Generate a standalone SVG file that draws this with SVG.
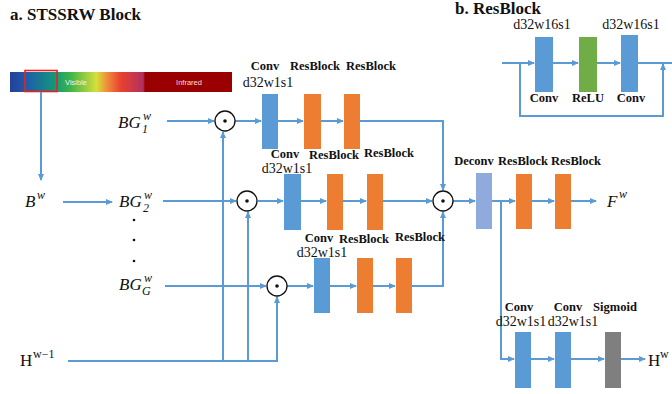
<svg xmlns="http://www.w3.org/2000/svg" width="672" height="394" viewBox="0 0 672 394">
<defs>
<style>
.ln{fill:none;stroke:#5b9bd5;stroke-width:2}
.ar{marker-end:url(#ah)}
.blue{fill:#5b9bd5}
.or{fill:#ed7d31}
.gr{fill:#70ad47}
.gy{fill:#7f7f7f}
.dc{fill:#8faadc}
.b{font-family:"Liberation Serif",serif;font-weight:bold;font-size:12.5px;fill:#111;text-anchor:middle}
.r{font-family:"Liberation Serif",serif;font-size:14px;fill:#111;text-anchor:middle}
.m{font-family:"Liberation Serif",serif;font-style:italic;font-size:17px;fill:#111}
.ms{font-family:"Liberation Serif",serif;font-style:italic;font-size:12px;fill:#111}
.h{font-family:"Liberation Serif",serif;font-size:17px;fill:#111}
.hs{font-family:"Liberation Serif",serif;font-size:12px;fill:#111}
.t{font-family:"Liberation Serif",serif;font-weight:bold;font-size:17px;fill:#111}
.op circle.o{fill:#fff;stroke:#111;stroke-width:1.3}
</style>
<marker id="ah" markerWidth="7" markerHeight="6" refX="6" refY="3" orient="auto" markerUnits="userSpaceOnUse">
<path d="M0,0 L7,3 L0,6 Z" fill="#5b9bd5"/>
</marker>
<linearGradient id="spec" x1="10" y1="0" x2="232" y2="0" gradientUnits="userSpaceOnUse">
<stop offset="0" stop-color="#24409a"/>
<stop offset="0.08" stop-color="#1f5ea8"/>
<stop offset="0.2" stop-color="#11977c"/>
<stop offset="0.27" stop-color="#3db44a"/>
<stop offset="0.39" stop-color="#d7df3a"/>
<stop offset="0.44" stop-color="#f0883a"/>
<stop offset="0.5" stop-color="#e8412f"/>
<stop offset="0.6" stop-color="#b0305f"/>
<stop offset="0.608" stop-color="#9b0000"/>
<stop offset="1" stop-color="#9b0000"/>
</linearGradient>
</defs>
<rect width="672" height="394" fill="#fff"/>

<text class="t" x="10" y="20">a. STSSRW Block</text>
<text class="t" x="455" y="14" font-size="16.5">b. ResBlock</text>

<g id="spectrum">
<rect x="10" y="72" width="222" height="20" fill="url(#spec)"/>
<text x="76" y="85" font-family="Liberation Sans,sans-serif" font-size="7.5" fill="#eef" text-anchor="middle">Visible</text>
<text x="189" y="85" font-family="Liberation Sans,sans-serif" font-size="7.5" fill="#f4dede" text-anchor="middle">Infrared</text>
<rect x="25" y="70.5" width="32" height="21" fill="none" stroke="#e8231f" stroke-width="1.6"/>
</g>

<g id="connectors">
<path class="ln ar" d="M41 92 V180"/>
<path class="ln ar" d="M63 202 H112"/>
<path class="ln ar" d="M167 121 H214"/>
<path class="ln ar" d="M163 201 H236"/>
<path class="ln ar" d="M165 286 H266"/>
<path class="ln ar" d="M68 361 H277 V297"/>
<path class="ln ar" d="M223 361 V132"/>
<path class="ln ar" d="M248 361 V212"/>
<path class="ln ar" d="M235 121 H261"/>
<path class="ln ar" d="M278 121 H303"/>
<path class="ln ar" d="M321 121 H343"/>
<path class="ln ar" d="M360 121 H443 V190"/>
<path class="ln ar" d="M258 201 H283"/>
<path class="ln ar" d="M301 201 H326"/>
<path class="ln ar" d="M343 201 H366"/>
<path class="ln ar" d="M383 201 H432"/>
<path class="ln ar" d="M287 286 H313"/>
<path class="ln ar" d="M330 286 H356"/>
<path class="ln ar" d="M373 286 H395"/>
<path class="ln ar" d="M412 286 H443 V212"/>
<path class="ln ar" d="M453 201 H475"/>
<path class="ln ar" d="M492 201 H515"/>
<path class="ln ar" d="M532 201 H554"/>
<path class="ln ar" d="M571 201 H596"/>
<path class="ln ar" d="M501 201 V359 H514"/>
<path class="ln ar" d="M531 359 H554"/>
<path class="ln ar" d="M571 359 H604"/>
<path class="ln ar" d="M621 359 H645"/>
<path class="ln ar" d="M502 63 H534"/>
<path class="ln ar" d="M553 63 H578"/>
<path class="ln ar" d="M597 63 H620"/>
<path class="ln" d="M638 63 H672"/>
<path class="ln ar" d="M520 63 V116 H663 V64"/>
</g>

<g id="labels-math">
<text class="m" x="25" y="207">B</text><text class="ms" x="37" y="199">w</text>
<text class="m" x="118" y="128">BG</text><text class="ms" x="143" y="120">w</text><text class="ms" x="142" y="133">1</text>
<text class="m" x="119" y="207">BG</text><text class="ms" x="144" y="199">w</text><text class="ms" x="143" y="212">2</text>
<text class="m" x="119" y="290">BG</text><text class="ms" x="144" y="282">w</text><text class="ms" x="142" y="295">G</text>
<g fill="#111"><circle cx="134" cy="220" r="1.3"/><circle cx="134" cy="240" r="1.3"/><circle cx="134" cy="261" r="1.3"/></g>
<text class="h" x="20" y="366">H</text><text class="hs" x="33" y="358">w−1</text>
<text class="m" x="607" y="207">F</text><text class="ms" x="619" y="198">w</text>
<text class="h" x="648" y="366">H</text><text class="hs" x="660" y="358">w</text>
</g>

<g id="mult1" class="op"><circle class="o" cx="225" cy="121" r="10"/><circle cx="225" cy="121" r="1.8" fill="#111"/></g>
<g id="mult2" class="op"><circle class="o" cx="247" cy="201" r="10"/><circle cx="247" cy="201" r="1.8" fill="#111"/></g>
<g id="mult3" class="op"><circle class="o" cx="277" cy="286" r="10"/><circle cx="277" cy="286" r="1.8" fill="#111"/></g>
<g id="mult4" class="op"><circle class="o" cx="443" cy="201" r="10"/><circle cx="443" cy="201" r="1.8" fill="#111"/></g>

<g id="row1">
<rect class="blue" x="262" y="94" width="16" height="55"/>
<rect class="or" x="304" y="94" width="17" height="55"/>
<rect class="or" x="344" y="94" width="16" height="55"/>
<text class="b" x="265" y="70">Conv</text>
<text class="b" x="315" y="70">ResBlock</text>
<text class="b" x="371" y="70">ResBlock</text>
<text class="r" x="268" y="87">d32w1s1</text>
</g>

<g id="row2">
<rect class="blue" x="284" y="174" width="17" height="56"/>
<rect class="or" x="327" y="174" width="16" height="56"/>
<rect class="or" x="367" y="174" width="16" height="56"/>
<text class="b" x="285" y="158">Conv</text>
<text class="b" x="334" y="159">ResBlock</text>
<text class="b" x="389" y="157">ResBlock</text>
<text class="r" x="287" y="173">d32w1s1</text>
</g>

<g id="row3">
<rect class="blue" x="314" y="258" width="16" height="55"/>
<rect class="or" x="357" y="258" width="16" height="55"/>
<rect class="or" x="396" y="258" width="16" height="55"/>
<text class="b" x="319" y="242">Conv</text>
<text class="b" x="364" y="243">ResBlock</text>
<text class="b" x="420" y="241">ResBlock</text>
<text class="r" x="322" y="257">d32w1s1</text>
</g>

<g id="output-row">
<rect class="dc" x="476" y="173" width="16" height="56"/>
<rect class="or" x="516" y="174" width="16" height="55"/>
<rect class="or" x="555" y="174" width="16" height="55"/>
<text class="b" x="474" y="165">Deconv</text>
<text class="b" x="523" y="165">ResBlock</text>
<text class="b" x="576" y="165">ResBlock</text>
</g>

<g id="attention-row">
<rect class="blue" x="515" y="332" width="16" height="56"/>
<rect class="blue" x="555" y="332" width="16" height="56"/>
<rect class="gy" x="605" y="332" width="16" height="56"/>
<text class="b" x="519" y="311">Conv</text>
<text class="b" x="568" y="311">Conv</text>
<text class="b" x="615" y="311">Sigmoid</text>
<text class="r" x="521" y="326" font-size="13.5">d32w1s1</text>
<text class="r" x="573" y="326" font-size="13.5">d32w1s1</text>
</g>

<g id="resblock-panel">
<rect class="blue" x="535" y="37" width="18" height="55"/>
<rect class="gr" x="579" y="37" width="18" height="55"/>
<rect class="blue" x="621" y="35" width="17" height="57"/>
<text class="r" x="542" y="29" font-size="13">d32w16s1</text>
<text class="r" x="631" y="29" font-size="13">d32w16s1</text>
<text class="b" x="544" y="102">Conv</text>
<text class="b" x="588" y="102">ReLU</text>
<text class="b" x="631" y="102">Conv</text>
</g>
</svg>
